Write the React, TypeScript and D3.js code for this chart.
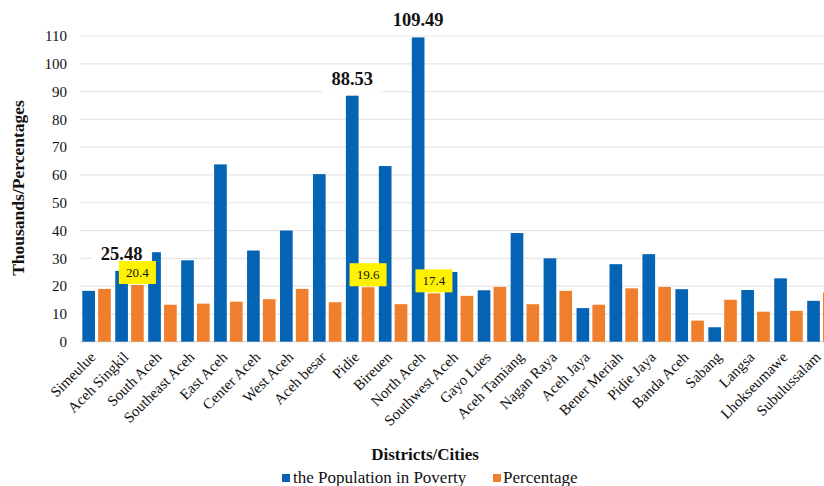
import React from 'react';
import * as d3 from 'd3';

const categories = [
  'Simeulue', 'Aceh Singkil', 'South Aceh', 'Southeast Aceh', 'East Aceh', 'Center Aceh',
  'West Aceh', 'Aceh besar', 'Pidie', 'Bireuen', 'North Aceh', 'Southwest Aceh', 'Gayo Lues',
  'Aceh Tamiang', 'Nagan Raya', 'Aceh Jaya', 'Bener Meriah', 'Pidie Jaya', 'Banda Aceh',
  'Sabang', 'Langsa', 'Lhokseumawe', 'Subulussalam',
];
const population = [
  18.3, 25.48, 32.2, 29.3, 63.8, 32.8, 40.0, 60.3, 88.53, 63.2, 109.49, 25.1, 18.5,
  39.1, 30.0, 12.1, 27.9, 31.5, 18.9, 5.2, 18.6, 22.8, 14.7,
];
const percentage = [
  19.0, 20.4, 13.3, 13.7, 14.4, 15.3, 19.0, 14.2, 19.6, 13.5, 17.4, 16.5, 19.7,
  13.5, 18.3, 13.3, 19.2, 19.7, 7.6, 15.1, 10.8, 11.1, 17.7,
];
const yTicks = [0, 10, 20, 30, 40, 50, 60, 70, 80, 90, 100, 110];
const labeledPopulation = ['Aceh Singkil', 'Pidie', 'North Aceh'];
const labeledPercentage = ['Aceh Singkil', 'Pidie', 'North Aceh'];
const seriesNames = ['the Population in Poverty', 'Percentage'];

const BLUE = '#0563b3';
const ORANGE = '#f07f2d';
const FONT = 'Liberation Serif';

export default function App() {
  const W = 824;
  const H = 486;
  const y = d3.scaleLinear().domain([0, 110]).range([341.7, 36]);
  const x0 = d3.scaleBand<string>().domain(categories).range([80, 838]).paddingInner(0.135).paddingOuter(0.07);
  const x1 = d3.scaleBand<string>().domain(['pop', 'pct']).range([0, x0.bandwidth()]).paddingInner(0.2);
  const bw = x1.bandwidth();
  const ts = { fontFamily: FONT } as React.CSSProperties;

  return (
    <svg width={W} height={H} style={{ position: 'absolute', left: 0, top: 0, background: '#fff', fontFamily: FONT }}>
      <rect x={0} y={0} width={W} height={H} fill="#fff" />
      {yTicks.map((t) => (
        <g key={t}>
          <line x1={80} x2={W} y1={y(t)} y2={y(t)} stroke={t === 0 ? '#d9d9d9' : '#e6e6e6'} strokeWidth={1.2} />
          <text x={67} y={y(t)} dy="0.35em" textAnchor="end" fontSize={15} fill="#111" style={ts}>{t}</text>
        </g>
      ))}
      <text transform={`translate(24,188) rotate(-90)`} textAnchor="middle" fontSize={17.5} fontWeight="bold" fill="#111" style={ts}>
        Thousands/Percentages
      </text>

      {categories.map((c, i) => {
        const gx = x0(c)!;
        return (
          <g key={c}>
            <rect x={gx + x1('pop')!} y={y(population[i])} width={bw} height={y(0) - y(population[i])} fill={BLUE} />
            <rect x={gx + x1('pct')!} y={y(percentage[i])} width={bw} height={y(0) - y(percentage[i])} fill={ORANGE} />
          </g>
        );
      })}

      {categories.map((c, i) => {
        if (!labeledPopulation.includes(c)) return null;
        const cx = x0(c)! + x1('pop')! + bw / 2;
        const base = y(population[i]) - 11;
        const label = population[i].toFixed(2);
        const tw = label.length * 8.6;
        return (
          <g key={'pl' + c}>
            <rect x={cx - tw / 2 - 9} y={base - 19} width={tw + 18} height={27} fill="#fff" />
            <text x={cx} y={base} textAnchor="middle" fontSize={18.5} fontWeight="bold" fill="#111" style={ts}>{label}</text>
          </g>
        );
      })}

      {categories.map((c, i) => {
        if (!labeledPercentage.includes(c)) return null;
        const cx = x0(c)! + x1('pct')! + bw / 2;
        const top = y(percentage[i]) - 1;
        return (
          <g key={'ql' + c}>
            <rect x={cx - 18.5} y={top - 23} width={37} height={23} fill="#fff200" />
            <text x={cx} y={top - 11.5} dy="0.35em" textAnchor="middle" fontSize={13} fill="#111" style={ts}>{percentage[i].toFixed(1)}</text>
          </g>
        );
      })}

      {categories.map((c) => {
        const cx = x0(c)! + x0.bandwidth() / 2;
        return (
          <text key={'xl' + c} transform={`translate(${cx},${358}) rotate(-45)`} textAnchor="end" fontSize={15} fill="#111" style={ts}>
            {c}
          </text>
        );
      })}

      <text x={425} y={460} textAnchor="middle" fontSize={17} fontWeight="bold" fill="#111" style={ts}>Districts/Cities</text>

      <g>
        <rect x={282} y={474} width={8} height={8} fill={BLUE} />
        <text x={293} y={483} fontSize={17} fill="#111" style={ts}>{seriesNames[0]}</text>
        <rect x={493} y={474} width={8} height={8} fill={ORANGE} />
        <text x={503} y={483} fontSize={17} fill="#111" style={ts}>{seriesNames[1]}</text>
      </g>
    </svg>
  );
}
